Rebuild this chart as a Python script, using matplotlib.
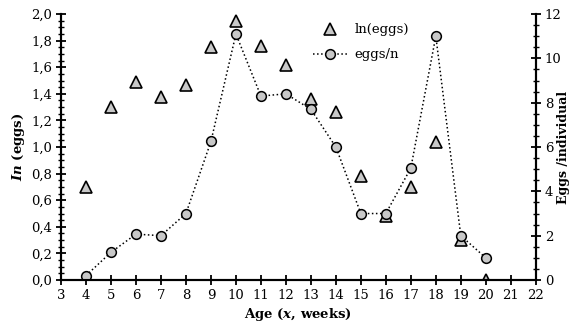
import matplotlib
matplotlib.use("Agg")
import matplotlib.pyplot as plt
from matplotlib.ticker import MultipleLocator, FuncFormatter

plt.rcParams['font.family'] = ['DejaVu Serif']
plt.rcParams['mathtext.fontset'] = 'custom'
plt.rcParams['mathtext.it'] = 'DejaVu Serif:italic:bold'
plt.rcParams['mathtext.rm'] = 'DejaVu Serif:bold'

# Data
age = [4, 5, 6, 7, 8, 9, 10, 11, 12, 13, 14, 15, 16, 17, 18, 19, 20]
ln_eggs = [0.70, 1.30, 1.49, 1.38, 1.47, 1.75, 1.95, 1.76, 1.62, 1.36, 1.26,
           0.78, 0.48, 0.70, 1.04, 0.30, 0.0]
eggs_n = [0.2, 1.25, 2.07, 2.0, 3.0, 6.25, 11.1, 8.3, 8.4, 7.7, 6.0,
          3.0, 3.0, 5.05, 11.0, 2.0, 1.0]

gray = '#c8c8c8'
fs = 9.5

fig = plt.figure(figsize=(5.73, 3.27), dpi=100)
ax1 = fig.add_axes([0.1065, 0.1437, 0.8285, 0.8133])
ax2 = ax1.twinx()

tri, = ax1.plot(age, ln_eggs, linestyle='none', marker='^', markersize=8.5,
                markerfacecolor=gray, markeredgecolor='black', markeredgewidth=1.2,
                label='ln(eggs)')
circ, = ax2.plot(age, eggs_n, linestyle=':', color='black', linewidth=1.1,
                 marker='o', markersize=7, markerfacecolor=gray,
                 markeredgecolor='black', markeredgewidth=1.1, label='eggs/n')

ax1.set_xlim(3, 22)
ax1.set_ylim(0, 2.0)
ax2.set_ylim(0, 12)

ax1.xaxis.set_major_locator(MultipleLocator(1))
ax1.yaxis.set_major_locator(MultipleLocator(0.2))
ax1.yaxis.set_minor_locator(MultipleLocator(0.05))
ax2.yaxis.set_major_locator(MultipleLocator(2))
ax2.yaxis.set_minor_locator(MultipleLocator(0.5))
ax1.yaxis.set_major_formatter(FuncFormatter(lambda v, p: f"{v:.1f}".replace('.', ',')))

for ax in (ax1, ax2):
    ax.spines['top'].set_visible(False)
    for s in ('left', 'right', 'bottom'):
        ax.spines[s].set_linewidth(1.5)
    ax.tick_params(which='major', direction='inout', length=7, width=1.3,
                   labelsize=fs, pad=3)
    ax.tick_params(which='minor', direction='inout', length=4, width=1.0)
ax1.tick_params(axis='y', which='both', right=False)
ax2.tick_params(axis='y', which='both', left=False)

ax1.set_xlabel(r'Age ($x$, weeks)', fontsize=fs, fontweight='bold', labelpad=3)
ax1.set_ylabel(r'$In$ (eggs)', fontsize=fs, fontweight='bold', labelpad=3)
ax2.set_ylabel('Eggs /individual', fontsize=9, fontweight='bold')
ax2.yaxis.set_label_coords(1.044, 0.5)

ax2.legend([tri, circ], ['ln(eggs)', 'eggs/n'], loc='upper left',
           bbox_to_anchor=(0.505, 1.01), frameon=False, fontsize=fs,
           handlelength=2.6, labelspacing=0.9, handletextpad=0.6)

fig.savefig('out.png', dpi=100)
